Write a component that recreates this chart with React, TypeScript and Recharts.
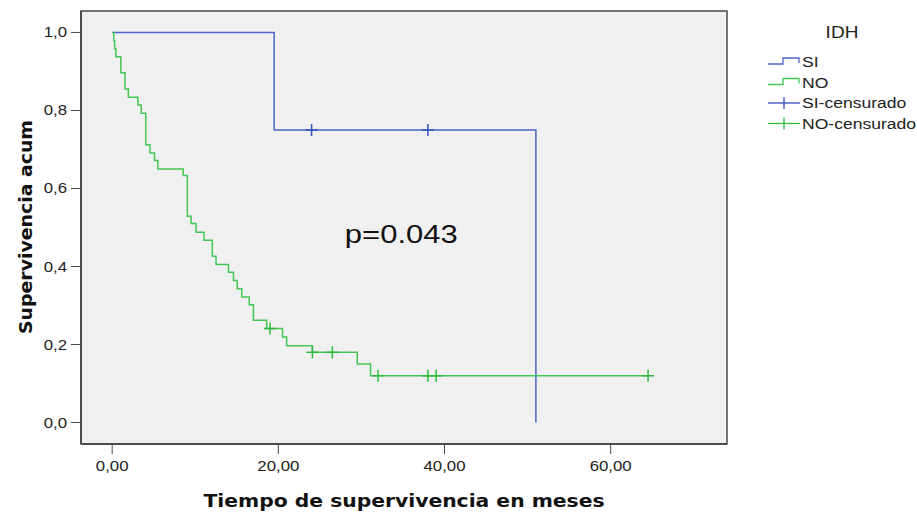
import {
  ComposedChart,
  Label,
  Line,
  ReferenceArea,
  ReferenceDot,
  Scatter,
  XAxis,
  YAxis,
} from 'recharts'

// Kaplan-Meier curves by IDH group (time in months, cumulative survival)
const SI_TIME = [0, 19.5, 51]
const SI_SURV = [1, 0.75, 0]
const SI_CENS_TIME = [24, 38]
const SI_CENS_SURV = [0.75, 0.75]

const NO_TIME = [
  0, 0.2, 0.3, 0.45, 1.05, 1.55, 1.95, 3.1, 3.5, 4.05, 4.55, 5.1, 5.5, 8.55, 9.05, 9.5, 10.1,
  11.05, 12.05, 12.5, 14.0, 14.6, 15.05, 15.6, 16.5, 17.0, 18.6, 20.5, 21.0, 24.1, 29.5, 31.1,
  64.5,
]
const NO_SURV = [
  1, 0.979, 0.958, 0.938, 0.897, 0.855, 0.834, 0.814, 0.793, 0.712, 0.691, 0.672, 0.65, 0.633,
  0.529, 0.51, 0.488, 0.467, 0.426, 0.405, 0.385, 0.364, 0.343, 0.322, 0.302, 0.262, 0.241,
  0.219, 0.197, 0.18, 0.15, 0.12, 0.12,
]
const NO_CENS_TIME = [19.0, 24.1, 26.5, 32.0, 38.0, 39.0, 64.5]
const NO_CENS_SURV = [0.241, 0.18, 0.18, 0.12, 0.12, 0.12, 0.12]

const X_TICKS = [0, 20, 40, 60]
const Y_TICKS = [0, 0.2, 0.4, 0.6, 0.8, 1]

const P_LABEL = 'p=0.043'
const GROUP_TITLE = 'IDH'
const X_TITLE = 'Tiempo de supervivencia en meses'
const Y_TITLE = 'Supervivencia acum'

const BLUE = '#4a66c8'
const BLUE_MARK = '#3550c0'
const GREEN = '#45c555'
const GREEN_MARK = '#2fb840'
const FRAME = '#4a4a4a'
const FONT = '"Liberation Sans", Arial, sans-serif'
const BOLD_FONT = '"DejaVu Sans", Verdana, sans-serif'
// the source image is stretched sideways, so text gets a small x scale
const STRETCH = 1.12

const zip = (t: number[], s: number[]) => t.map((time, i) => ({ time, surv: s[i] }))

const siLine = zip(SI_TIME, SI_SURV)
const noLine = zip(NO_TIME, NO_SURV)
const siCens = zip(SI_CENS_TIME, SI_CENS_SURV)
const noCens = zip(NO_CENS_TIME, NO_CENS_SURV)

const comma = (digits: number) => (v: number) => v.toFixed(digits).replace('.', ',')

function XTick(props: any) {
  const { x, y, payload } = props
  return (
    <text
      transform={`translate(${x} ${y + 11}) scale(${STRETCH} 1)`}
      textAnchor="middle"
      fontSize={15}
      fill="#222"
      fontFamily={FONT}
    >
      {comma(2)(payload.value)}
    </text>
  )
}

function YTick(props: any) {
  const { x, y, payload } = props
  return (
    <text
      transform={`translate(${x} ${y + 5}) scale(${STRETCH} 1)`}
      textAnchor="end"
      fontSize={15}
      fill="#222"
      fontFamily={FONT}
    >
      {comma(1)(payload.value)}
    </text>
  )
}

function CensorMark(color: string) {
  return (props: any) => {
    const { cx, cy } = props
    return (
      <g stroke={color} strokeWidth={1.5}>
        <line x1={cx - 6} y1={cy} x2={cx + 6} y2={cy} />
        <line x1={cx} y1={cy - 6} x2={cx} y2={cy + 6} />
      </g>
    )
  }
}

function KmLegend() {
  const rows = [
    { name: 'SI', color: BLUE, censored: false },
    { name: 'NO', color: GREEN, censored: false },
    { name: 'SI-censurado', color: BLUE_MARK, censored: true },
    { name: 'NO-censurado', color: GREEN_MARK, censored: true },
  ]
  return (
    <svg width={157} height={130} style={{ display: 'block', fontFamily: FONT }}>
      <text transform={`translate(82 30) scale(${STRETCH} 1)`} fontSize={17} textAnchor="middle" fill="#222">
        {GROUP_TITLE}
      </text>
      {rows.map((r, i) => {
        const y = 54 + i * 20.5
        return (
          <g key={r.name}>
            {r.censored ? (
              <g stroke={r.color} strokeWidth={1.3}>
                <line x1={8} y1={y} x2={40} y2={y} />
                <line x1={24} y1={y - 6} x2={24} y2={y + 6} />
              </g>
            ) : (
              <polyline
                points={`8,${y + 2} 23,${y + 2} 23,${y - 4} 39,${y - 4} 39,${y + 1}`}
                fill="none"
                stroke={r.color}
                strokeWidth={1.3}
              />
            )}
            <text transform={`translate(42 ${y + 5}) scale(1.17 1)`} fontSize={15} fill="#222">
              {r.name}
            </text>
          </g>
        )
      })}
    </svg>
  )
}

export default function App() {
  return (
    <div style={{ position: 'absolute', left: 0, top: 0, width: 917, height: 514, background: '#fff' }}>
      <ComposedChart
        width={917}
        height={514}
        margin={{ top: 11, right: 190, bottom: 0, left: 0 }}
        style={{ fontFamily: FONT }}
      >
        <XAxis
          type="number"
          dataKey="time"
          domain={[-3.75, 74]}
          ticks={X_TICKS}
          allowDataOverflow
          height={70}
          tickSize={10}
          tickMargin={6}
          tick={<XTick />}
          stroke={FRAME}
          axisLine={{ stroke: FRAME, strokeWidth: 2 }}
        >
          <Label
            content={() => (
              <text
                x={404}
                y={507}
                textAnchor="middle"
                fontFamily={BOLD_FONT}
                fontWeight="bold"
                fontSize={18}
                textLength={401}
                lengthAdjust="spacingAndGlyphs"
                fill="#111"
              >
                {X_TITLE}
              </text>
            )}
          />
        </XAxis>
        <YAxis
          type="number"
          dataKey="surv"
          domain={[-0.055, 1.055]}
          ticks={Y_TICKS}
          allowDataOverflow
          width={81}
          tickSize={10}
          tickMargin={4}
          tick={<YTick />}
          stroke={FRAME}
          axisLine={{ stroke: FRAME, strokeWidth: 2 }}
        >
          <Label
            content={() => (
              <text
                transform="translate(32 227) rotate(-90)"
                textAnchor="middle"
                fontFamily={BOLD_FONT}
                fontWeight="bold"
                fontSize={18}
                textLength={214}
                lengthAdjust="spacingAndGlyphs"
                fill="#111"
              >
                {Y_TITLE}
              </text>
            )}
          />
        </YAxis>
        <ReferenceArea
          x1={-3.75}
          x2={74}
          y1={-0.055}
          y2={1.055}
          fill="#f0f0f0"
          fillOpacity={1}
          stroke={FRAME}
          strokeWidth={1.5}
        />
        <Line
          data={siLine}
          dataKey="surv"
          type="stepAfter"
          stroke={BLUE}
          strokeWidth={1.5}
          dot={false}
          isAnimationActive={false}
        />
        <Line
          data={noLine}
          dataKey="surv"
          type="stepAfter"
          stroke={GREEN}
          strokeWidth={1.5}
          dot={false}
          isAnimationActive={false}
        />
        <Scatter data={siCens} dataKey="surv" shape={CensorMark(BLUE_MARK)} isAnimationActive={false} />
        <Scatter data={noCens} dataKey="surv" shape={CensorMark(GREEN_MARK)} isAnimationActive={false} />
        <ReferenceDot
          x={28}
          y={0.46}
          r={0}
          fill="none"
          stroke="none"
          label={(p: any) => (
            <text
              x={p.viewBox.x}
              y={p.viewBox.y}
              fontSize={25}
              textLength={113}
              lengthAdjust="spacingAndGlyphs"
              fill="#111"
              fontFamily={FONT}
            >
              {P_LABEL}
            </text>
          )}
        />
      </ComposedChart>
      <div style={{ position: 'absolute', left: 760, top: 8 }}>
        <KmLegend />
      </div>
    </div>
  )
}
